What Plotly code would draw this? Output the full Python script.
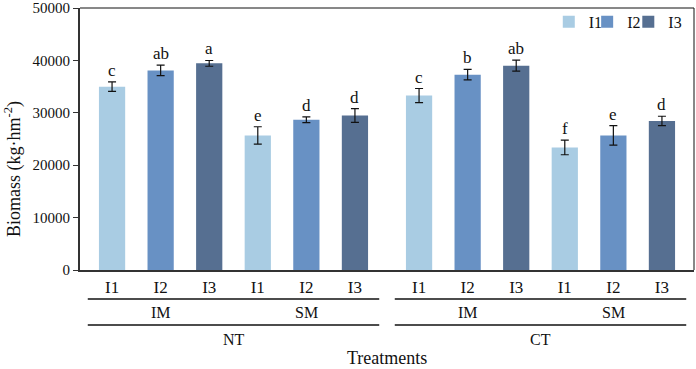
import plotly.graph_objects as go

# ---- data ----
tillage = ["NT", "CT"]
mulch = ["IM", "SM"]
irrigation = ["I1", "I2", "I3"]

I1 = [35000, 25700, 33300, 23400]
I1_err = [900, 1650, 1350, 1400]
I1_letters = ["c", "e", "c", "f"]

I2 = [38100, 28700, 37300, 25700]
I2_err = [1000, 550, 1000, 1850]
I2_letters = ["ab", "d", "b", "e"]

I3 = [39450, 29500, 39000, 28450]
I3_err = [550, 1300, 1050, 900]
I3_letters = ["a", "d", "ab", "d"]

y_ticks = [0, 10000, 20000, 30000, 40000, 50000]

colors = ["#A9CCE3", "#6891C4", "#566F91"]
FONT = "Liberation Serif, Times New Roman, serif"

series = [(I1, I1_err, I1_letters), (I2, I2_err, I2_letters), (I3, I3_err, I3_letters)]

GAP = 0.32  # extra gap between tillage groups


def pos(g, s):
    return 3 * g + s + (GAP if g >= 2 else 0)


fig = go.Figure()
legend_x = [0.7635, 0.826, 0.893]
for s, (vals, errs, letters) in enumerate(series):
    xs = [pos(g, s) for g in range(len(vals))]
    fig.add_trace(go.Bar(
        x=xs, y=vals, name=irrigation[s], width=0.54,
        marker=dict(color=colors[s], line=dict(width=0)),
        error_y=dict(type="data", array=errs, color="#111111", thickness=1.2, width=4),
        legend="legend" if s == 0 else f"legend{s+1}",
    ))
    for x, v, e, t in zip(xs, vals, errs, letters):
        fig.add_annotation(x=x, y=v + e, text=t, showarrow=False, yanchor="bottom",
                           yshift=0, font=dict(family=FONT, size=17, color="#111111"))

# tick values / labels
tickvals = [pos(g, s) for g in range(4) for s in range(3)]
ticktext = [irrigation[s] for g in range(4) for s in range(3)]

# group lines and labels
for ti, tl in enumerate(tillage):
    g0, g1 = 2 * ti, 2 * ti + 1
    x0 = pos(g0, 0) - 0.5
    x1 = pos(g1, 2) + 0.5
    for yy in (-0.111, -0.2095):
        fig.add_shape(type="line", xref="x", yref="paper", x0=x0, x1=x1, y0=yy, y1=yy,
                      line=dict(color="#111111", width=1.5))
    for mi, ml in enumerate(mulch):
        g = 2 * ti + mi
        fig.add_annotation(x=pos(g, 1), y=-0.163, xref="x", yref="paper", text=ml,
                           showarrow=False, yanchor="middle",
                           font=dict(family=FONT, size=16, color="#111111"))
    fig.add_annotation(x=(x0 + x1) / 2, y=-0.265, xref="x", yref="paper", text=tl,
                       showarrow=False, yanchor="middle",
                       font=dict(family=FONT, size=16, color="#111111"))

fig.add_annotation(x=0.5, y=-0.335, xref="paper", yref="paper", text="Treatments",
                   showarrow=False, yanchor="middle",
                   font=dict(family=FONT, size=18, color="#111111"))
fig.add_annotation(x=-0.109, y=0.386, xref="paper", yref="paper",
                   text="Biomass (kg·hm<sup>-2</sup>)", textangle=-90,
                   showarrow=False, xanchor="center", yanchor="middle",
                   font=dict(family=FONT, size=18, color="#111111"))

# frame top/right
fig.add_shape(type="line", xref="paper", yref="paper", x0=0, x1=1, y0=1, y1=1,
              line=dict(color="#111111", width=1))
fig.add_shape(type="line", xref="paper", yref="paper", x0=1, x1=1, y0=0, y1=1,
              line=dict(color="#111111", width=1))

legend_common = dict(orientation="h", yanchor="middle", xanchor="left",
                     bgcolor="rgba(0,0,0,0)", font=dict(family=FONT, size=16, color="#111111"))
fig.update_layout(
    width=696, height=369,
    margin=dict(l=80, r=2, t=8, b=99, autoexpand=False),
    paper_bgcolor="white", plot_bgcolor="white",
    showlegend=True,
    legend=dict(x=legend_x[0], y=0.947, **legend_common),
    legend2=dict(x=legend_x[1], y=0.947, **legend_common),
    legend3=dict(x=legend_x[2], y=0.947, **legend_common),
    font=dict(family=FONT, color="#111111"),
    xaxis=dict(range=[-0.66, 11.98], tickvals=tickvals, ticktext=ticktext,
               showline=True, linecolor="#333333", linewidth=2, showgrid=False,
               zeroline=False, ticks="outside", ticklen=1, tickcolor="rgba(0,0,0,0)",
               automargin=False,
               tickfont=dict(family=FONT, size=17, color="#111111")),
    yaxis=dict(range=[0, 50020], tickvals=y_ticks, ticktext=[str(v) for v in y_ticks],
               showline=True, linecolor="#333333", linewidth=2, showgrid=False,
               zeroline=False, ticks="outside", ticklen=5, tickcolor="#333333",
               ticklabeloverflow="allow", automargin=False,
               tickfont=dict(family=FONT, size=15, color="#111111")),
)

fig.write_html("out.html")
